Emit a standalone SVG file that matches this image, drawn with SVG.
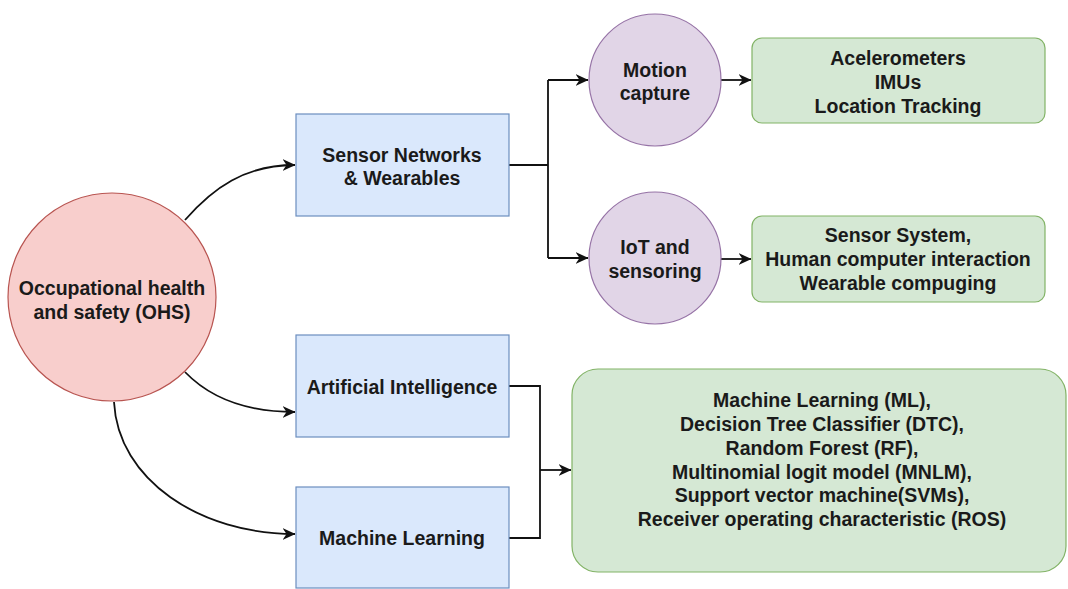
<svg xmlns="http://www.w3.org/2000/svg" width="1068" height="589" viewBox="0 0 1068 589">
<style>
  .t{font-family:"Liberation Sans",Arial,sans-serif;font-weight:bold;font-size:19.5px;fill:#1a1a1a;text-anchor:middle;dominant-baseline:central}
  .red{fill:#f8cecc;stroke:#b85450;stroke-width:1.2}
  .blue{fill:#dae8fc;stroke:#6c8ebf;stroke-width:1.2}
  .purple{fill:#e1d5e7;stroke:#9673a6;stroke-width:1.2}
  .green{fill:#d5e8d4;stroke:#82b366;stroke-width:1.2}
  .c{fill:none;stroke:#111;stroke-width:1.8}
</style>
<defs>
  <marker id="arr" viewBox="0 0 13 12" refX="12.5" refY="6" markerWidth="13" markerHeight="12" markerUnits="userSpaceOnUse" orient="auto">
    <path d="M0,0 L13,6 L0,12 L4,6 Z" fill="#111"/>
  </marker>
</defs>
<rect width="1068" height="589" fill="#ffffff"/>
<g id="connectors">
  <path class="c" d="M185,220 C213,188 245,165 295,165" marker-end="url(#arr)"/>
  <path class="c" d="M185,372 C212,400 250,412 295,412" marker-end="url(#arr)"/>
  <path class="c" d="M114,402 C118,480 200,534 295,534" marker-end="url(#arr)"/>
  <path class="c" d="M509,165 H548 M548,80 V258"/>
  <path class="c" d="M548,80 H588" marker-end="url(#arr)"/>
  <path class="c" d="M548,258 H588" marker-end="url(#arr)"/>
  <path class="c" d="M720,80 H751" marker-end="url(#arr)"/>
  <path class="c" d="M720,259 H751" marker-end="url(#arr)"/>
  <path class="c" d="M509,386 H540 V538 H509"/>
  <path class="c" d="M540,470 H571" marker-end="url(#arr)"/>
</g>
<g id="ohs">
  <circle class="red" cx="112" cy="297" r="104"/>
  <text class="t" x="112" y="288">Occupational health</text>
  <text class="t" x="112" y="312">and safety (OHS)</text>
</g>
<g id="sensor-networks">
  <rect class="blue" x="296" y="114" width="213" height="102"/>
  <text class="t" x="402" y="155">Sensor Networks</text>
  <text class="t" x="402" y="178">&amp; Wearables</text>
</g>
<g id="ai">
  <rect class="blue" x="296" y="335" width="213" height="102"/>
  <text class="t" x="402" y="387">Artificial Intelligence</text>
</g>
<g id="ml">
  <rect class="blue" x="296" y="487" width="213" height="101"/>
  <text class="t" x="402" y="538">Machine Learning</text>
</g>
<g id="motion-capture">
  <circle class="purple" cx="655" cy="80" r="66"/>
  <text class="t" x="655" y="70">Motion</text>
  <text class="t" x="655" y="93">capture</text>
</g>
<g id="iot">
  <circle class="purple" cx="655" cy="258" r="66"/>
  <text class="t" x="655" y="247">IoT and</text>
  <text class="t" x="655" y="271">sensoring</text>
</g>
<g id="motion-details">
  <rect class="green" x="752" y="38" width="293" height="85" rx="10"/>
  <text class="t" x="898" y="58">Acelerometers</text>
  <text class="t" x="898" y="82">IMUs</text>
  <text class="t" x="898" y="106">Location Tracking</text>
</g>
<g id="iot-details">
  <rect class="green" x="752" y="216" width="293" height="86" rx="10"/>
  <text class="t" x="898" y="235">Sensor System,</text>
  <text class="t" x="898" y="259">Human computer interaction</text>
  <text class="t" x="898" y="283">Wearable compuging</text>
</g>
<g id="methods">
  <rect class="green" x="572" y="369" width="494" height="203" rx="26"/>
  <text class="t" x="822" y="400">Machine Learning (ML),</text>
  <text class="t" x="822" y="424">Decision Tree Classifier (DTC),</text>
  <text class="t" x="822" y="448">Random Forest (RF),</text>
  <text class="t" x="822" y="472">Multinomial logit model (MNLM),</text>
  <text class="t" x="822" y="495">Support vector machine(SVMs),</text>
  <text class="t" x="822" y="519">Receiver operating characteristic (ROS)</text>
</g>
</svg>
